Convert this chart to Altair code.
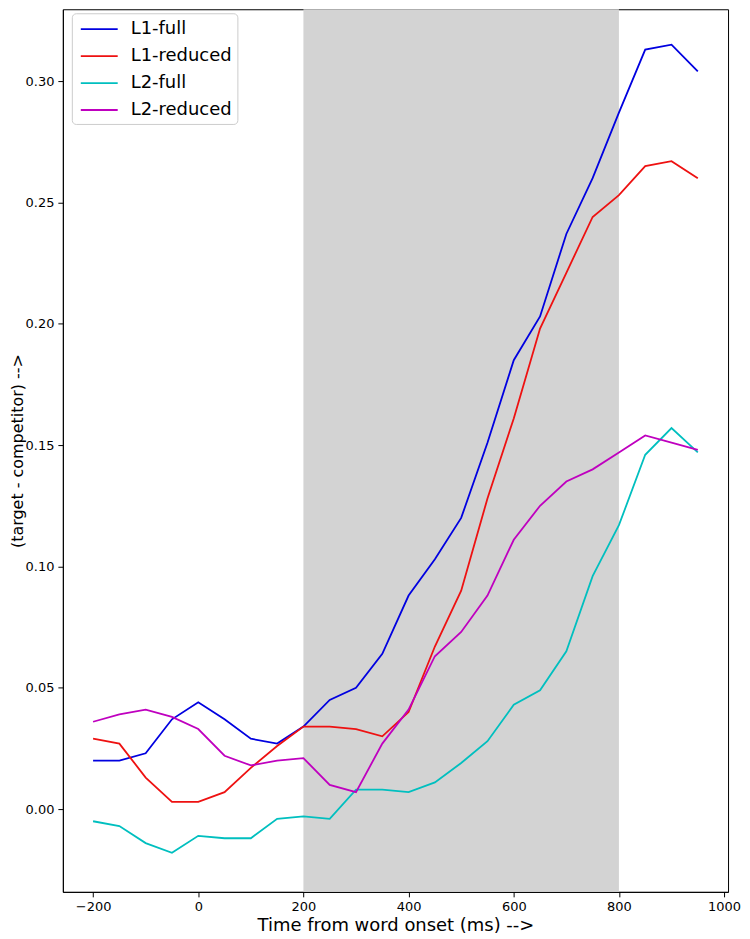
import altair as alt
import pandas as pd

times = [-200, -150, -100, -50, 0, 50, 100, 150, 200, 250, 300, 350, 400, 450,
         500, 550, 600, 650, 700, 750, 800, 850, 900, 950]

l1_full = [0.020, 0.020, 0.023, 0.037, 0.044, 0.037, 0.029, 0.027, 0.034, 0.045,
           0.050, 0.064, 0.088, 0.103, 0.120, 0.151, 0.185, 0.203, 0.237, 0.260,
           0.287, 0.313, 0.315, 0.304]
l1_reduced = [0.029, 0.027, 0.013, 0.003, 0.003, 0.007, 0.017, 0.026, 0.034, 0.034,
              0.033, 0.030, 0.040, 0.067, 0.090, 0.128, 0.161, 0.198, 0.221, 0.244,
              0.253, 0.265, 0.267, 0.260]
l2_full = [-0.005, -0.007, -0.014, -0.018, -0.011, -0.012, -0.012, -0.004, -0.003, -0.004,
           0.008, 0.008, 0.007, 0.011, 0.019, 0.028, 0.043, 0.049, 0.065, 0.096,
           0.117, 0.146, 0.157, 0.147]
l2_reduced = [0.036, 0.039, 0.041, 0.038, 0.033, 0.022, 0.018, 0.020, 0.021, 0.010,
              0.007, 0.027, 0.041, 0.063, 0.073, 0.088, 0.111, 0.125, 0.135, 0.140,
              0.147, 0.154, 0.151, 0.148]

series_names = ["L1-full", "L1-reduced", "L2-full", "L2-reduced"]
series_colors = ["#0000e0", "#ee1111", "#00bfbf", "#bf00bf"]
series_values = [l1_full, l1_reduced, l2_full, l2_reduced]

window_start = [200]
window_end = [800]

x_ticks = [-200, 0, 200, 400, 600, 800, 1000]
y_ticks = [0.0, 0.05, 0.10, 0.15, 0.20, 0.25, 0.30]

rows = []
for name, vals in zip(series_names, series_values):
    for t, v in zip(times, vals):
        rows.append({"time": t, "value": v, "series": name})
df = pd.DataFrame(rows)
span = pd.DataFrame({"start": window_start, "end": window_end})

FONT = "DejaVu Sans"
xscale = alt.Scale(domain=[-257.5, 1007.5], nice=False, zero=False)
yscale = alt.Scale(domain=[-0.0341, 0.3296], nice=False, zero=False)

shade = alt.Chart(span).mark_rect(color="#d3d3d3").encode(
    x=alt.X("start:Q", scale=xscale),
    x2="end:Q",
)

lines = alt.Chart(df).mark_line(strokeWidth=1.8).encode(
    x=alt.X("time:Q", scale=xscale,
            axis=alt.Axis(title="Time from word onset (ms) -->", values=x_ticks,
                          format="d", grid=False, tickSize=5, labelPadding=4,
                          titleFontSize=18, titlePadding=3, labelFontSize=13,
                          titleFontWeight="normal", domainColor="black",
                          tickColor="black", labelColor="black", titleColor="black",
                          labelFont=FONT, titleFont=FONT, labelFlush=False)),
    y=alt.Y("value:Q", scale=yscale,
            axis=alt.Axis(title="(target - competitor) -->", values=y_ticks,
                          format=".2f", grid=False, tickSize=5, labelPadding=4,
                          titleFontSize=16, titlePadding=0, labelFontSize=13,
                          titleFontWeight="normal", domainColor="black",
                          tickColor="black", labelColor="black", titleColor="black",
                          labelFont=FONT, titleFont=FONT, labelFlush=False)),
    color=alt.Color("series:N",
                    scale=alt.Scale(domain=series_names, range=series_colors),
                    legend=alt.Legend(title=None, orient="none", legendX=9, legendY=4,
                                      symbolType="M-0.7,0H3", symbolSize=400,
                                      symbolStrokeWidth=1.8, labelFontSize=18,
                                      labelFont=FONT, labelColor="black",
                                      labelOffset=32, rowPadding=7, padding=5,
                                      strokeColor="#cccccc", cornerRadius=4,
                                      fillColor="rgba(255,255,255,0.8)")),
    detail="series:N",
    order="time:Q",
)

chart = alt.layer(shade, lines).properties(
    width=667, height=885,
    autosize=alt.AutoSizeParams(type="none"),
    padding={"left": 55, "top": 0, "right": 14, "bottom": 46},
).configure_view(stroke="black", strokeWidth=1)

chart.save("out.html", embed_options={"renderer": "svg", "actions": False})
